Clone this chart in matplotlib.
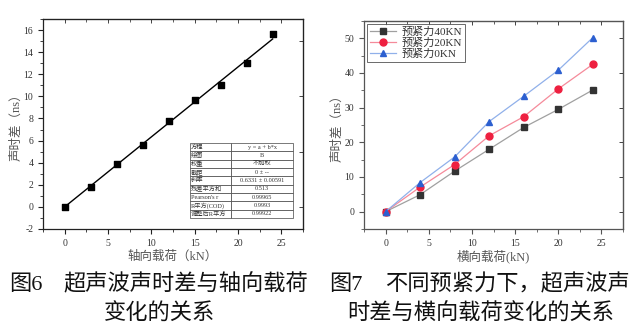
import numpy as np
import matplotlib.pyplot as plt
from matplotlib.ticker import MultipleLocator

plt.rcParams['font.family'] = ['Liberation Serif', 'Noto Sans CJK SC', 'DejaVu Sans']
plt.rcParams['axes.unicode_minus'] = False

# Fig 6 data
axial_load = [0, 3, 6, 9, 12, 15, 18, 21, 24]
axial_dt = [0, 1.8, 3.9, 5.6, 7.8, 9.7, 11.0, 13.0, 15.6]
slope = 0.6331

fit_rows = ["方程", "绘图", "权重", "截距", "斜率", "残差平方和",
            "Pearson's r", "R平方(COD)", "调整后R平方"]
fit_vals = ["y = a + b*x", "B", "不加权", "0 ± --", "0.6331 ± 0.00591",
            "0.513", "0.99965", "0.9993", "0.99922"]

# Fig 7 data
lat_load = [0, 4, 8, 12, 16, 20, 24]
dt_40 = [0, 4.9, 11.7, 18.0, 24.3, 29.5, 35.1]
dt_20 = [0, 7.1, 13.6, 21.9, 27.4, 35.4, 42.5]
dt_0 = [0, 8.4, 15.8, 26.0, 33.3, 40.8, 50.2]
labels_7 = ["预紧力40KN", "预紧力20KN", "预紧力0KN"]

W, H = 641, 329
fig = plt.figure(figsize=(W / 100, H / 100), dpi=100)

def box(x0, y0, x1, y1):
    return [x0 / W, 1 - y1 / H, (x1 - x0) / W, (y1 - y0) / H]

ax1 = fig.add_axes(box(43, 19, 303, 229))
ax2 = fig.add_axes(box(364, 21, 623, 229))

def style(ax, col):
    for s in ax.spines.values():
        s.set_color(col)
        s.set_linewidth(0.9)
    ax.tick_params(which='both', labelsize=7, colors='#333333')
    ax.tick_params(which='major', length=3.5, width=0.8, color=col)
    ax.tick_params(which='minor', length=2, width=0.6, color=col)
    ax.xaxis.set_minor_locator(MultipleLocator(2.5))

# left chart
ax1.scatter(axial_load, axial_dt, marker='s', s=22, color='black', zorder=3)
xf = np.array([axial_load[0], axial_load[-1]])
ax1.plot(xf, slope * xf, color='black', lw=1.0)
ax1.set_xlim(-2.5, 27.5)
ax1.set_ylim(-2, 17)
ax1.xaxis.set_major_locator(MultipleLocator(5))
ax1.yaxis.set_major_locator(MultipleLocator(2))
ax1.yaxis.set_minor_locator(MultipleLocator(1))
style(ax1, '#222222')
ax1.set_xlabel("轴向载荷（kN）", fontsize=9, color='#555555')
ax1.set_ylabel("声时差（ns）", fontsize=9, color='#555555')
ax1.xaxis.set_label_coords(0.5, -0.105)
ax1.yaxis.set_label_coords(-0.081, 0.5)

# top/right ticks pointing in
for ax in (ax1, ax2):
    ax.tick_params(which='both', direction='out', top=False, right=False)
    sec = ax.secondary_xaxis('top')
    sec.tick_params(which='both', direction='in', labeltop=False)
    sec.xaxis.set_minor_locator(MultipleLocator(2.5))
    sec2 = ax.secondary_yaxis('right')
    sec2.tick_params(which='both', direction='in', labelright=False)
    for s in (sec, sec2):
        s.tick_params(which='major', length=3, width=0.7, color='#444444')
        s.tick_params(which='minor', length=1.8, width=0.6, color='#444444')

tb = ax1.table(cellText=[[r, v] for r, v in zip(fit_rows, fit_vals)],
               colWidths=[0.4, 0.6], bbox=[0.565, 0.052, 0.397, 0.358],
               cellLoc='center')
tb.auto_set_font_size(False)
for (r, c), cell in tb.get_celld().items():
    cell.set_linewidth(0.5)
    cell.set_edgecolor('#444444')
    cell.get_text().set_fontsize(4.5)
    cell.get_text().set_color('#333333')
    if c == 0:
        cell.get_text().set_ha('left')
        cell._loc = 'left'
        cell.PAD = 0.03

# right chart
ax2.plot(lat_load, dt_40, color='#a0a0a0', lw=0.9, marker='s', ms=4.5,
         mfc='#333333', mec='#333333', label=labels_7[0])
ax2.plot(lat_load, dt_20, color='#f58a9a', lw=0.9, marker='o', ms=5,
         mfc='#ee2040', mec='#ee2040', label=labels_7[1])
ax2.plot(lat_load, dt_0, color='#90b0ea', lw=0.9, marker='^', ms=5,
         mfc='#2c5fd0', mec='#2c5fd0', label=labels_7[2])
ax2.set_xlim(-2.5, 27.5)
ax2.set_ylim(-5, 55)
ax2.xaxis.set_major_locator(MultipleLocator(5))
ax2.yaxis.set_major_locator(MultipleLocator(10))
ax2.yaxis.set_minor_locator(MultipleLocator(5))
style(ax2, '#555555')
ax2.set_xlabel("横向载荷(kN)", fontsize=9, color='#555555')
ax2.set_ylabel("声时差（ns）", fontsize=9, color='#555555')
ax2.xaxis.set_label_coords(0.5, -0.10)
ax2.yaxis.set_label_coords(-0.081, 0.5)
leg = ax2.legend(loc='upper left', fontsize=8, frameon=True, fancybox=False,
                 borderpad=0.2, labelspacing=0.1, handlelength=2.4,
                 handletextpad=0.5, borderaxespad=0.3)
leg.get_frame().set_edgecolor('#444444')
leg.get_frame().set_linewidth(0.7)
for t in leg.get_texts():
    t.set_color('#333333')

# captions
cap_kw = dict(fontsize=16, color='#111111', ha='left', va='center')
fig.text(9 / W, 1 - 285 / H, "图6", **cap_kw)
fig.text(63 / W, 1 - 285 / H, "超声波声时差与轴向载荷", **cap_kw)
fig.text(104 / W, 1 - 314 / H, "变化的关系", **cap_kw)
fig.text(329 / W, 1 - 285 / H, "图7", **cap_kw)
fig.text(385 / W, 1 - 285 / H, "不同预紧力下，超声波声", **cap_kw)
fig.text(347 / W, 1 - 314 / H, "时差与横向载荷变化的关系", **cap_kw)

fig.savefig("out.png", dpi=100)
